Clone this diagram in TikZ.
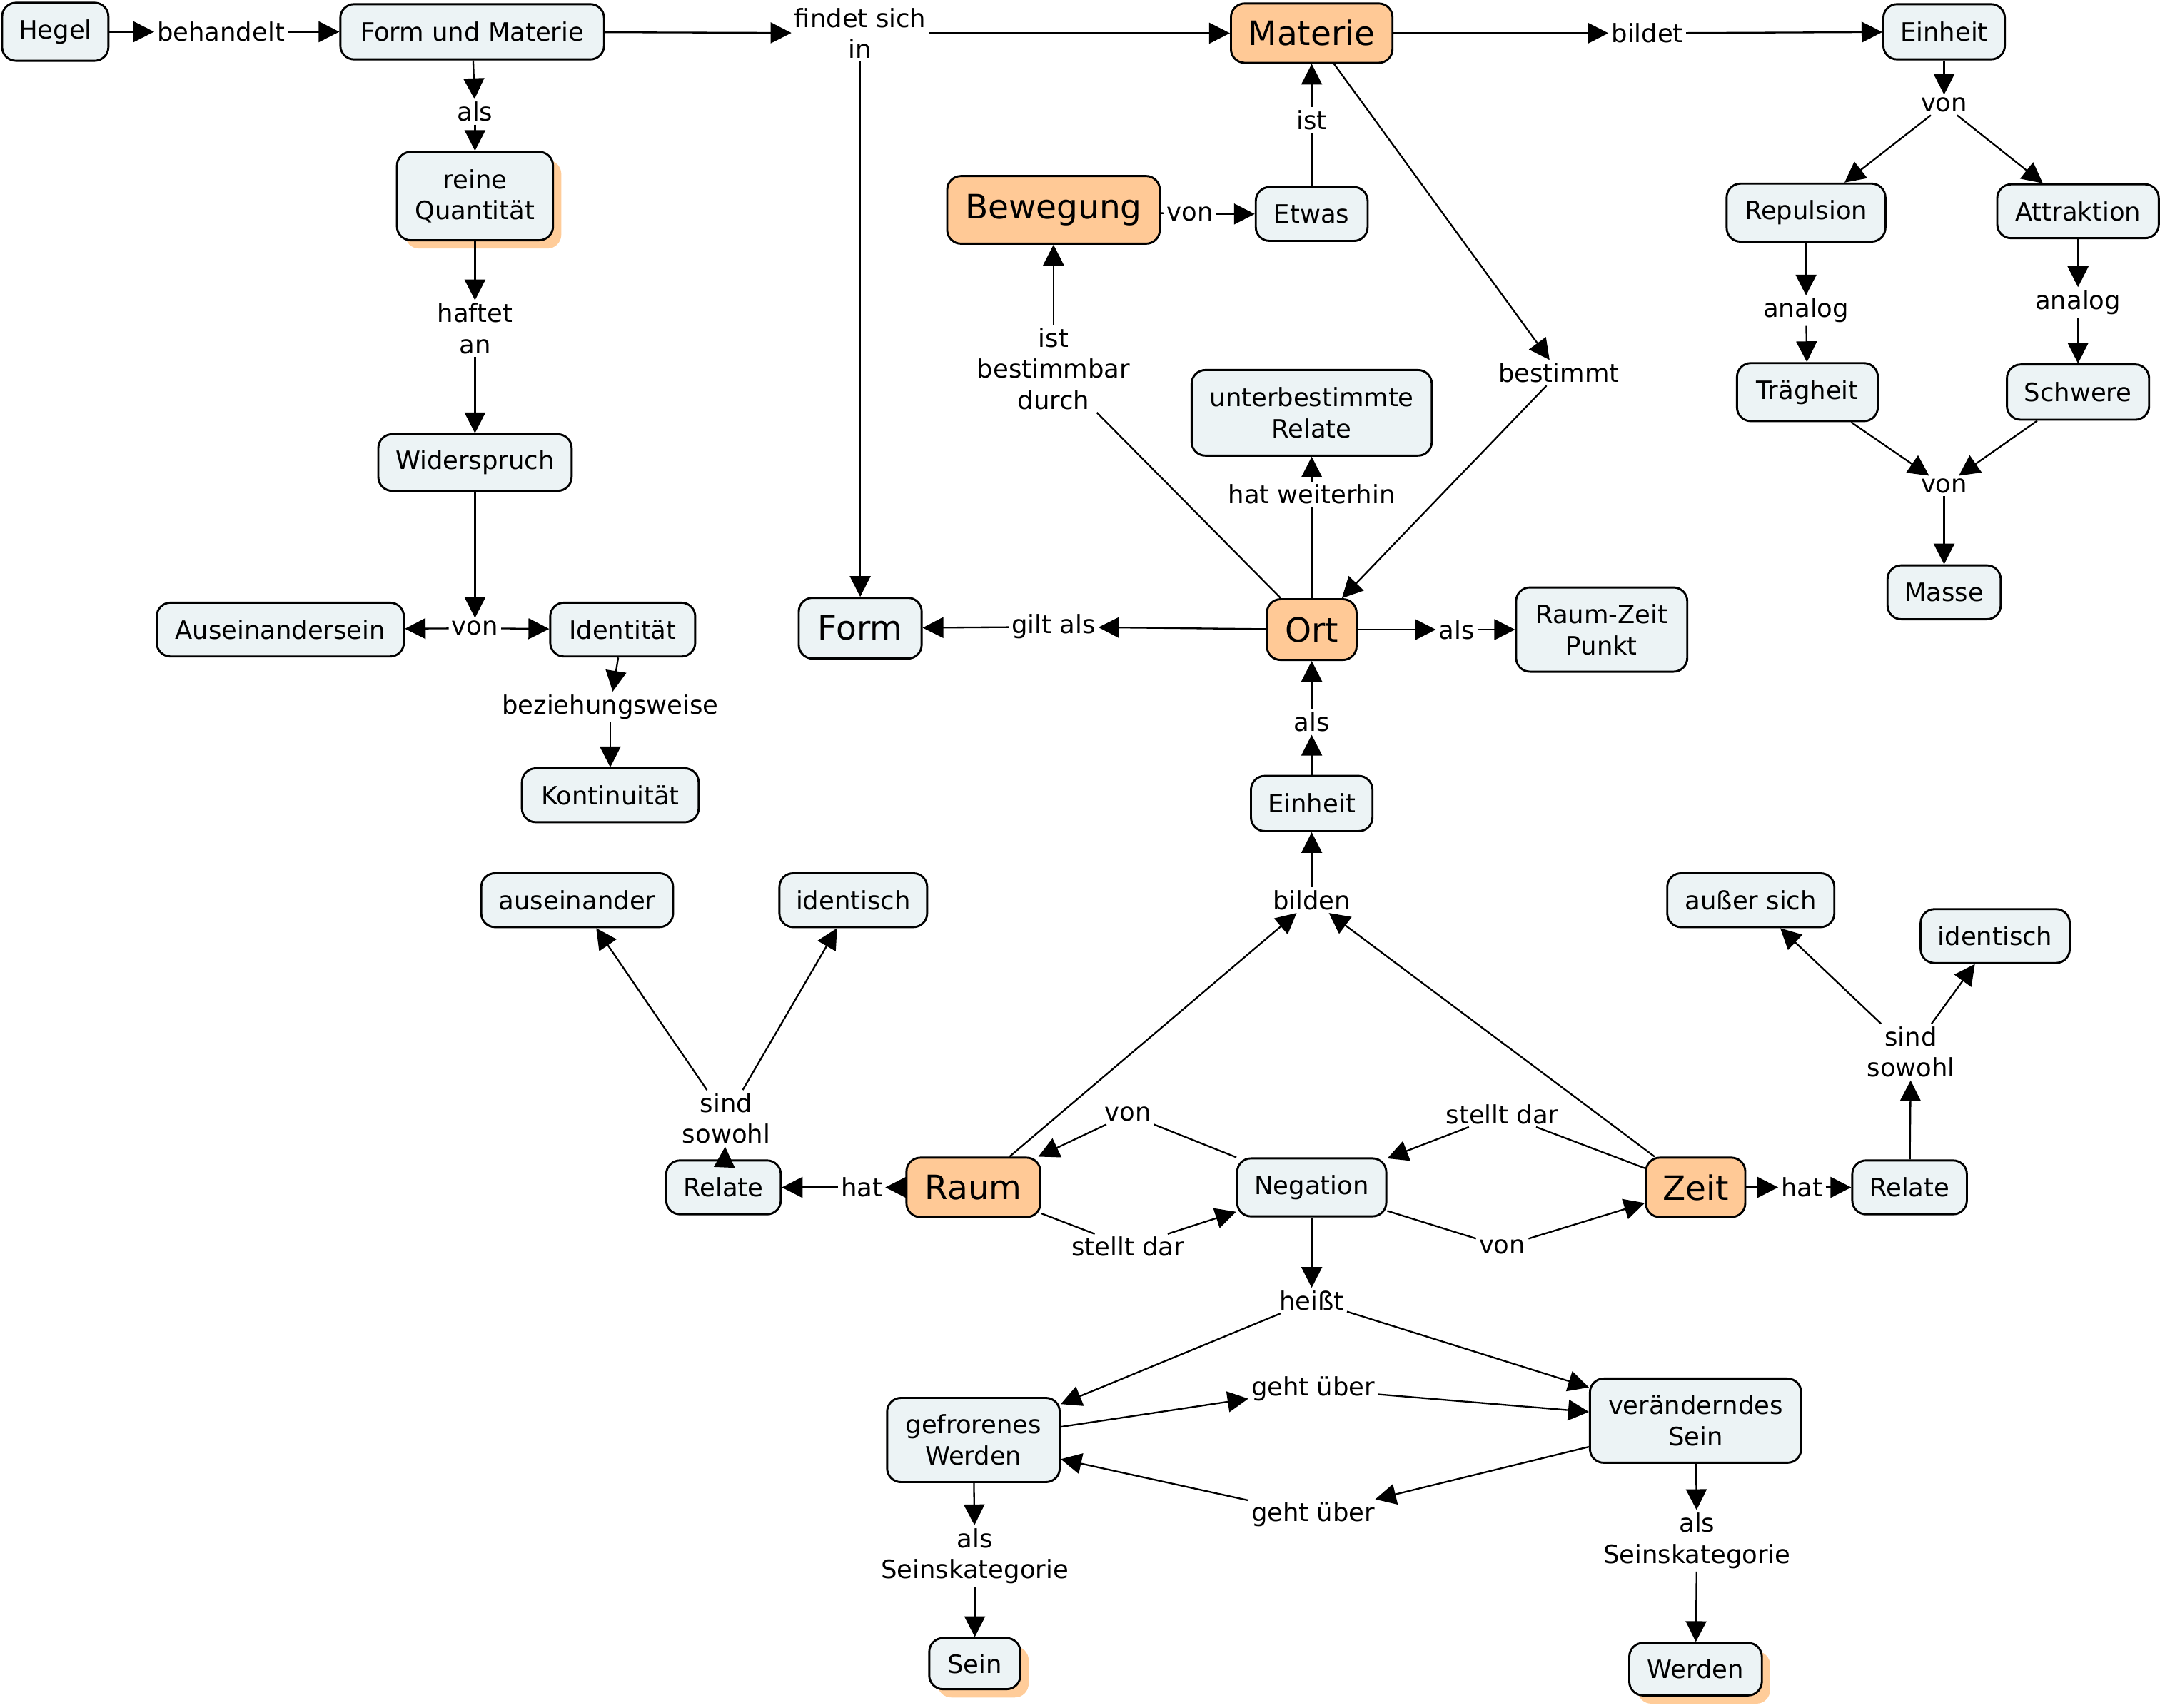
\documentclass[tikz,border=0pt]{standalone}
\usepackage{fontspec}
\setmainfont{DejaVu Sans}
\usetikzlibrary{arrows.meta,shadows}
\definecolor{cfill}{HTML}{ECF3F5}
\definecolor{ofill}{HTML}{FFC996}
\definecolor{sfill}{HTML}{FFCC99}
\tikzset{
 concept/.style={draw, line width=1.5pt, rounded corners=10pt, fill=cfill, inner sep=0pt, align=center, font=\fontsize{18.3}{22.5}\selectfont},
 bigc/.style={concept, fill=ofill, font=\fontsize{24.3}{28}\selectfont},
 bigl/.style={concept, font=\fontsize{24.3}{28}\selectfont},
 lbl/.style={inner sep=2pt, align=center, font=\fontsize{18.3}{22.5}\selectfont},
 link/.style={line width=1.2pt},
 arr/.style={link, -{Triangle[length=15pt,width=15pt]}},
 shad/.style={drop shadow={shadow xshift=6pt,shadow yshift=-6pt,fill=sfill,opacity=1}},
}
\begin{document}
\begin{tikzpicture}[x=1pt,y=1pt]
\useasboundingbox (0,0) rectangle (1568,-1237);
\node[concept,minimum width=77,minimum height=42] (hegel) at (40,-23) {Hegel};
\node[lbl] (behandelt) at (160,-23) {behandelt};
\node[concept,minimum width=191,minimum height=40] (fum) at (342,-23) {Form und Materie};
\node[lbl] (als1) at (344,-81) {als};
\node[concept,shad,minimum width=113,minimum height=64] (rq) at (344,-142) {reine\\Quantität};
\node[lbl] (haftet) at (344,-238) {haftet\\an};
\node[concept,minimum width=140,minimum height=41] (wid) at (344,-335) {Widerspruch};
\node[lbl] (von1) at (344,-455) {von};
\node[concept,minimum width=179,minimum height=39] (ausein) at (203,-456) {Auseinandersein};
\node[concept,minimum width=105,minimum height=39] (ident) at (451,-456) {Identität};
\node[lbl] (bzw) at (442,-512) {beziehungsweise};
\node[concept,minimum width=128,minimum height=39] (kont) at (442,-576) {Kontinuität};
\node[lbl] (findet) at (623,-24) {findet sich\\in};
\node[bigl,minimum width=89,minimum height=44] (form) at (623,-455) {Form};
\node[bigc,minimum width=117,minimum height=43] (materie) at (950,-24) {Materie};
\node[lbl] (ist) at (950,-87) {ist};
\node[bigc,minimum width=154,minimum height=49] (bew) at (763,-152) {Bewegung};
\node[lbl] (von2) at (862,-155) {von};
\node[concept,minimum width=81,minimum height=39] (etwas) at (950,-155) {Etwas};
\node[lbl] (istbd) at (763,-267) {ist\\bestimmbar\\durch};
\node[lbl] (bestimmt) at (1129,-270) {bestimmt};
\node[concept,minimum width=174,minimum height=62] (ubr) at (950,-299) {unterbestimmte\\Relate};
\node[lbl] (hatw) at (950,-358) {hat weiterhin};
\node[bigc,minimum width=65,minimum height=44] (ort) at (950,-456) {Ort};
\node[lbl] (giltals) at (763,-454) {gilt als};
\node[lbl] (als2) at (1055,-456) {als};
\node[concept,minimum width=124,minimum height=61] (rzp) at (1160,-456) {Raum-Zeit\\Punkt};
\node[lbl] (als3) at (950,-523) {als};
\node[concept,minimum width=88,minimum height=40] (einheit1) at (950,-582) {Einheit};
\node[lbl] (bilden) at (950,-652) {bilden};
\node[lbl] (bildet) at (1193,-24) {bildet};
\node[concept,minimum width=88,minimum height=40] (einheit2) at (1408,-23) {Einheit};
\node[lbl] (von3) at (1408,-76) {von};
\node[concept,minimum width=115,minimum height=42] (rep) at (1308,-154) {Repulsion};
\node[concept,minimum width=117,minimum height=39] (att) at (1505,-153) {Attraktion};
\node[lbl] (analog1) at (1308,-225) {analog};
\node[lbl] (analog2) at (1505,-219) {analog};
\node[concept,minimum width=102,minimum height=42] (traeg) at (1309,-284) {Trägheit};
\node[concept,minimum width=103,minimum height=40] (schwere) at (1505,-284) {Schwere};
\node[lbl] (von4) at (1408,-352) {von};
\node[concept,minimum width=82,minimum height=39] (masse) at (1408,-429) {Masse};
\node[concept,minimum width=139,minimum height=39] (ausein2) at (418,-652) {auseinander};
\node[concept,minimum width=107,minimum height=39] (identL) at (618,-652) {identisch};
\node[lbl] (sindL) at (526,-810) {sind\\sowohl};
\node[concept,minimum width=83,minimum height=39] (relL) at (524,-860) {Relate};
\node[lbl] (hatL) at (624,-860) {hat};
\node[bigc,minimum width=97,minimum height=43] (raum) at (705,-860) {Raum};
\node[lbl] (von5) at (817,-807) {von};
\node[lbl] (stdL) at (817,-903) {stellt dar};
\node[concept,minimum width=108,minimum height=42] (neg) at (950,-860) {Negation};
\node[lbl] (stdR) at (1088,-807) {stellt dar};
\node[lbl] (von6) at (1088,-903) {von};
\node[bigc,minimum width=72,minimum height=43] (zeit) at (1228,-860) {Zeit};
\node[lbl] (hatR) at (1305,-860) {hat};
\node[concept,minimum width=83,minimum height=39] (relR) at (1383,-860) {Relate};
\node[lbl] (sindR) at (1384,-762) {sind\\sowohl};
\node[concept,minimum width=121,minimum height=39] (ausser) at (1268,-652) {außer sich};
\node[concept,minimum width=108,minimum height=39] (identR) at (1445,-678) {identisch};
\node[lbl] (heisst) at (950,-942) {heißt};
\node[concept,minimum width=125,minimum height=61] (gefr) at (705,-1043) {gefrorenes\\Werden};
\node[concept,minimum width=153,minimum height=61] (verae) at (1228,-1029) {veränderndes\\Sein};
\node[lbl] (geht1) at (951,-1006) {geht über};
\node[lbl] (geht2) at (951,-1097) {geht über};
\node[lbl] (alsS1) at (706,-1127) {als\\Seinskategorie};
\node[lbl] (alsS2) at (1229,-1116) {als\\Seinskategorie};
\node[concept,shad,minimum width=66,minimum height=37] (sein) at (706,-1205) {Sein};
\node[concept,shad,minimum width=96,minimum height=38] (werden) at (1228,-1209) {Werden};

\draw[arr] (hegel) -- (behandelt);
\draw[arr] (behandelt) -- (fum);
\draw[arr] (fum) -- (findet);
\draw[arr] (findet) -- (materie);
\draw[arr] (findet) -- (form);
\draw[arr] (fum) -- (als1);
\draw[arr] (als1) -- (rq);
\draw[arr] (rq) -- (haftet);
\draw[arr] (haftet) -- (wid);
\draw[arr] (wid) -- (von1);
\draw[arr] (von1) -- (ausein);
\draw[arr] (von1) -- (ident);
\draw[arr] (ident) -- (bzw);
\draw[arr] (bzw) -- (kont);
\draw[link] (etwas) -- (ist);
\draw[arr] (ist) -- (materie);
\draw[link] (bew) -- (von2);
\draw[arr] (von2) -- (etwas);
\draw[link] (ort) -- (istbd);
\draw[arr] (istbd) -- (bew);
\draw[arr] (materie) -- (bestimmt);
\draw[arr] (bestimmt) -- (ort);
\draw[link] (ort) -- (hatw);
\draw[arr] (hatw) -- (ubr);
\draw[arr] (ort) -- (giltals);
\draw[arr] (giltals) -- (form);
\draw[arr] (ort) -- (als2);
\draw[arr] (als2) -- (rzp);
\draw[arr] (einheit1) -- (als3);
\draw[arr] (als3) -- (ort);
\draw[arr] (bilden) -- (einheit1);
\draw[arr] (raum) -- (bilden);
\draw[arr] (zeit) -- (bilden);
\draw[arr] (materie) -- (bildet);
\draw[arr] (bildet) -- (einheit2);
\draw[arr] (einheit2) -- (von3);
\draw[arr] (von3) -- (rep);
\draw[arr] (von3) -- (att);
\draw[arr] (rep) -- (analog1);
\draw[arr] (analog1) -- (traeg);
\draw[arr] (att) -- (analog2);
\draw[arr] (analog2) -- (schwere);
\draw[arr] (traeg) -- (von4);
\draw[arr] (schwere) -- (von4);
\draw[arr] (von4) -- (masse);
\draw[arr] (relL) -- (sindL);
\draw[arr] (sindL) -- (ausein2);
\draw[arr] (sindL) -- (identL);
\draw[arr] (raum) -- (hatL);
\draw[arr] (hatL) -- (relL);
\draw[link] (neg) -- (von5);
\draw[arr] (von5) -- (raum);
\draw[link] (raum) -- (stdL);
\draw[arr] (stdL) -- (neg);
\draw[link] (zeit) -- (stdR);
\draw[arr] (stdR) -- (neg);
\draw[link] (neg) -- (von6);
\draw[arr] (von6) -- (zeit);
\draw[arr] (zeit) -- (hatR);
\draw[arr] (hatR) -- (relR);
\draw[arr] (relR) -- (sindR);
\draw[arr] (sindR) -- (ausser);
\draw[arr] (sindR) -- (identR);
\draw[arr] (neg) -- (heisst);
\draw[arr] (heisst) -- (gefr);
\draw[arr] (heisst) -- (verae);
\draw[arr] (gefr) -- (geht1);
\draw[arr] (geht1) -- (verae);
\draw[arr] (verae) -- (geht2);
\draw[arr] (geht2) -- (gefr);
\draw[arr] (gefr) -- (alsS1);
\draw[arr] (alsS1) -- (sein);
\draw[arr] (verae) -- (alsS2);
\draw[arr] (alsS2) -- (werden);
\end{tikzpicture}
\end{document}
